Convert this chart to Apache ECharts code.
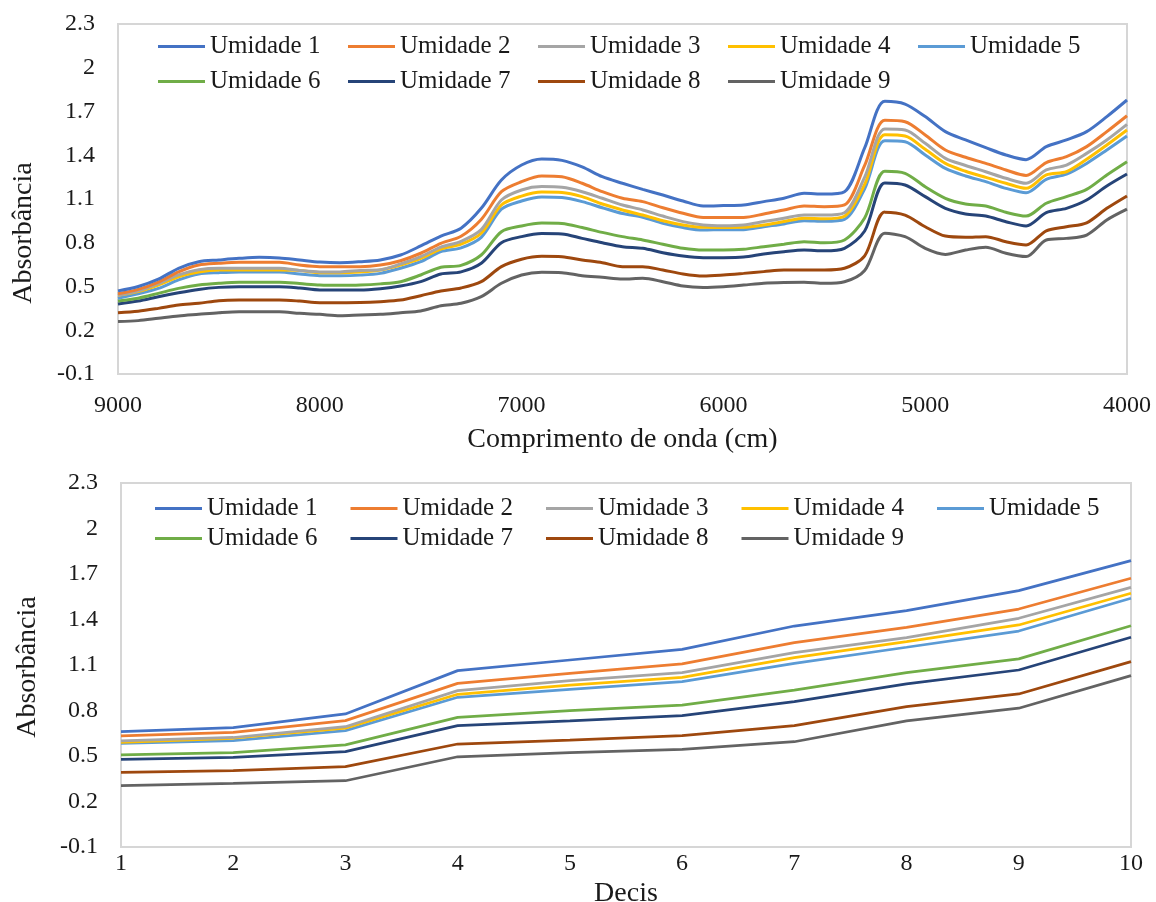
<!DOCTYPE html>
<html>
<head>
<meta charset="utf-8">
<script src="https://cdn.jsdelivr.net/npm/echarts@6/dist/echarts.min.js"></script>
<style>
  html, body { margin: 0; padding: 0; background: #fff; }
  #chart { width: 1156px; height: 902px; }
</style>
</head>
<body>
<div id="chart"></div>
<script>
// Series names and colours
const seriesNames = ['Umidade 1', 'Umidade 2', 'Umidade 3', 'Umidade 4', 'Umidade 5',
                     'Umidade 6', 'Umidade 7', 'Umidade 8', 'Umidade 9'];
const seriesColors = ['#4472C4', '#ED7D31', '#A5A5A5', '#FFC000', '#5B9BD5',
                      '#70AD47', '#264478', '#9E480E', '#636363'];

// Spectra: wavenumber (cm) and absorbance per moisture level
const wavenumbers = [9000, 8900, 8800, 8700, 8600, 8500, 8400, 8300, 8200, 8100,
                     8000, 7900, 7800, 7700, 7600, 7500, 7400, 7300, 7200, 7100,
                     7000, 6900, 6800, 6700, 6600, 6500, 6400, 6300, 6200, 6100,
                     6000, 5900, 5800, 5700, 5600, 5500, 5400, 5300, 5200, 5100,
                     5000, 4900, 4800, 4700, 4600, 4500, 4400, 4300, 4200, 4100, 4000];

const umidade1 = [0.47, 0.50, 0.55, 0.625, 0.67, 0.682, 0.693, 0.70, 0.696, 0.682,
                  0.668, 0.663, 0.67, 0.682, 0.716, 0.778, 0.846, 0.90, 1.036, 1.23,
                  1.333, 1.375, 1.365, 1.32, 1.253, 1.208, 1.166, 1.127, 1.086, 1.052,
                  1.055, 1.059, 1.082, 1.105, 1.139, 1.134, 1.15, 1.45, 1.77, 1.751,
                  1.665, 1.562, 1.505, 1.452, 1.402, 1.37, 1.459, 1.505, 1.562, 1.665, 1.779];
const umidade2 = [0.45, 0.48, 0.53, 0.60, 0.647, 0.659, 0.666, 0.666, 0.666, 0.647,
                  0.636, 0.636, 0.636, 0.647, 0.677, 0.728, 0.796, 0.845, 0.96, 1.15,
                  1.219, 1.258, 1.252, 1.208, 1.15, 1.105, 1.082, 1.04, 1.002, 0.974,
                  0.974, 0.974, 0.997, 1.025, 1.052, 1.047, 1.059, 1.33, 1.64, 1.63,
                  1.539, 1.436, 1.386, 1.344, 1.299, 1.262, 1.35, 1.39, 1.459, 1.562, 1.671];
const umidade3 = [0.44, 0.47, 0.52, 0.58, 0.615, 0.625, 0.625, 0.625, 0.625, 0.61,
                  0.60, 0.60, 0.61, 0.615, 0.655, 0.705, 0.77, 0.81, 0.89, 1.093,
                  1.162, 1.185, 1.18, 1.15, 1.105, 1.059, 1.025, 0.983, 0.945, 0.922,
                  0.917, 0.922, 0.945, 0.968, 0.99, 0.99, 1.006, 1.25, 1.58, 1.573,
                  1.482, 1.379, 1.33, 1.287, 1.242, 1.208, 1.299, 1.333, 1.413, 1.505, 1.612];
const umidade4 = [0.44, 0.465, 0.51, 0.567, 0.60, 0.613, 0.613, 0.613, 0.613, 0.61,
                  0.595, 0.595, 0.60, 0.613, 0.647, 0.693, 0.757, 0.79, 0.865, 1.059,
                  1.12, 1.148, 1.145, 1.116, 1.066, 1.025, 0.99, 0.951, 0.922, 0.906,
                  0.905, 0.906, 0.922, 0.945, 0.968, 0.965, 0.982, 1.20, 1.54, 1.532,
                  1.441, 1.344, 1.29, 1.248, 1.208, 1.173, 1.265, 1.287, 1.372, 1.47, 1.573];
const umidade5 = [0.42, 0.45, 0.487, 0.545, 0.586, 0.595, 0.60, 0.60, 0.60, 0.586,
                  0.574, 0.574, 0.578, 0.59, 0.625, 0.67, 0.739, 0.765, 0.837, 1.03,
                  1.086, 1.114, 1.11, 1.082, 1.04, 1.00, 0.975, 0.933, 0.904, 0.887,
                  0.89, 0.89, 0.91, 0.929, 0.951, 0.947, 0.96, 1.17, 1.50, 1.493,
                  1.402, 1.31, 1.258, 1.219, 1.173, 1.143, 1.235, 1.27, 1.344, 1.436, 1.532];
const umidade6 = [0.40, 0.42, 0.453, 0.487, 0.51, 0.522, 0.529, 0.529, 0.529, 0.52,
                  0.51, 0.508, 0.51, 0.518, 0.533, 0.579, 0.632, 0.645, 0.716, 0.876,
                  0.915, 0.935, 0.932, 0.904, 0.871, 0.842, 0.819, 0.79, 0.762, 0.75,
                  0.75, 0.755, 0.773, 0.79, 0.807, 0.80, 0.819, 0.97, 1.29, 1.276,
                  1.184, 1.105, 1.066, 1.052, 1.009, 0.983, 1.071, 1.116, 1.166, 1.265, 1.356];
const umidade7 = [0.38, 0.40, 0.43, 0.457, 0.48, 0.494, 0.499, 0.499, 0.499, 0.49,
                  0.476, 0.476, 0.476, 0.485, 0.503, 0.533, 0.586, 0.60, 0.659, 0.80,
                  0.842, 0.863, 0.86, 0.83, 0.80, 0.773, 0.762, 0.732, 0.709, 0.698,
                  0.698, 0.702, 0.723, 0.739, 0.75, 0.745, 0.762, 0.88, 1.21, 1.196,
                  1.116, 1.036, 0.997, 0.983, 0.944, 0.915, 1.006, 1.036, 1.093, 1.189, 1.271];
const umidade8 = [0.32, 0.33, 0.35, 0.373, 0.385, 0.403, 0.407, 0.407, 0.407, 0.40,
                  0.389, 0.389, 0.39, 0.396, 0.407, 0.437, 0.469, 0.49, 0.533, 0.636,
                  0.687, 0.707, 0.704, 0.682, 0.663, 0.636, 0.636, 0.613, 0.586, 0.572,
                  0.579, 0.59, 0.602, 0.613, 0.613, 0.613, 0.625, 0.71, 1.01, 0.99,
                  0.91, 0.846, 0.838, 0.842, 0.807, 0.785, 0.882, 0.91, 0.937, 1.036, 1.121];
const umidade9 = [0.26, 0.266, 0.282, 0.298, 0.309, 0.32, 0.327, 0.327, 0.327, 0.316,
                  0.309, 0.30, 0.305, 0.309, 0.32, 0.332, 0.368, 0.385, 0.43, 0.522,
                  0.579, 0.598, 0.595, 0.574, 0.563, 0.551, 0.556, 0.533, 0.503, 0.494,
                  0.499, 0.51, 0.522, 0.527, 0.529, 0.522, 0.533, 0.61, 0.865, 0.842,
                  0.762, 0.72, 0.75, 0.77, 0.728, 0.705, 0.819, 0.83, 0.853, 0.956, 1.03];
const spectra = [umidade1, umidade2, umidade3, umidade4, umidade5,
                 umidade6, umidade7, umidade8, umidade9];

// Mean absorbance per decile
const deciles = ['1', '2', '3', '4', '5', '6', '7', '8', '9', '10'];
const decis1 = [0.66, 0.687, 0.777, 1.063, 1.133, 1.203, 1.357, 1.458, 1.59, 1.788];
const decis2 = [0.632, 0.656, 0.733, 0.979, 1.045, 1.107, 1.247, 1.348, 1.469, 1.672];
const decis3 = [0.60, 0.622, 0.693, 0.931, 0.997, 1.05, 1.181, 1.28, 1.408, 1.612];
const decis4 = [0.59, 0.617, 0.684, 0.907, 0.968, 1.019, 1.148, 1.254, 1.364, 1.573];
const decis5 = [0.584, 0.601, 0.667, 0.887, 0.94, 0.99, 1.111, 1.217, 1.324, 1.54];
const decis6 = [0.507, 0.522, 0.573, 0.755, 0.799, 0.836, 0.935, 1.05, 1.14, 1.359];
const decis7 = [0.478, 0.491, 0.529, 0.70, 0.731, 0.766, 0.858, 0.975, 1.067, 1.283];
const decis8 = [0.392, 0.403, 0.43, 0.579, 0.605, 0.634, 0.70, 0.825, 0.909, 1.122];
const decis9 = [0.304, 0.32, 0.337, 0.495, 0.522, 0.544, 0.594, 0.731, 0.815, 1.03];
const decisData = [decis1, decis2, decis3, decis4, decis5, decis6, decis7, decis8, decis9];

// Axis tick labels
const absorbanceTicks = [-0.1, 0.2, 0.5, 0.8, 1.1, 1.4, 1.7, 2, 2.3];
const wavenumberTicks = [9000, 8000, 7000, 6000, 5000, 4000];

const FONT = '"Liberation Serif", "Times New Roman", serif';
const TEXT = '#1a1a1a';
const BORDER = '#d6d6d6';

function yAxisFor(gridIndex) {
  return {
    type: 'value',
    gridIndex: gridIndex,
    min: absorbanceTicks[0],
    max: absorbanceTicks[absorbanceTicks.length - 1],
    axisLine: { show: false },
    axisTick: { show: false },
    splitLine: { show: false },
    axisLabel: {
      customValues: absorbanceTicks,
      margin: 23,
      fontFamily: FONT, fontSize: 24, color: TEXT,
      formatter: v => String(Math.round(v * 10) / 10)
    }
  };
}

function legendFor(top, left, textWidth, gap) {
  return {
    data: seriesNames,
    left: left,
    top: top,
    width: 980,
    padding: 0,
    orient: 'horizontal',
    icon: 'rect',
    itemWidth: 47,
    itemHeight: 3,
    itemGap: gap,
    selectedMode: false,
    textStyle: {
      fontFamily: FONT, fontSize: 25, color: TEXT,
      width: textWidth, lineHeight: 25, overflow: 'none'
    }
  };
}

const series = [];
seriesNames.forEach((name, i) => {
  series.push({
    name: name,
    type: 'line',
    xAxisIndex: 0, yAxisIndex: 0,
    data: wavenumbers.map((w, k) => [w, spectra[i][k]]),
    showSymbol: false,
    smooth: 0.3,
    lineStyle: { width: 3, color: seriesColors[i] },
    itemStyle: { color: seriesColors[i] },
    z: 20 - i
  });
});
seriesNames.forEach((name, i) => {
  series.push({
    name: name,
    type: 'line',
    xAxisIndex: 1, yAxisIndex: 1,
    data: decisData[i],
    showSymbol: false,
    lineStyle: { width: 2.75, color: seriesColors[i] },
    itemStyle: { color: seriesColors[i] },
    z: 20 - i
  });
});

const option = {
  animation: false,
  backgroundColor: '#fff',
  color: seriesColors,
  grid: [
    { left: 118, right: 29, top: 24, height: 350, show: true,
      outerBoundsMode: 'none', containLabel: false,
      borderColor: BORDER, borderWidth: 2, backgroundColor: 'transparent' },
    { left: 121, right: 25, top: 483, height: 364, show: true,
      outerBoundsMode: 'none', containLabel: false,
      borderColor: BORDER, borderWidth: 2, backgroundColor: 'transparent' }
  ],
  legend: [
    legendFor(34, 158, 128, 10),
    legendFor(496, 155, 138.5, 5)
  ],
  xAxis: [
    {
      type: 'value',
      gridIndex: 0,
      inverse: true,
      min: 4000, max: 9000, interval: 1000,
      axisLine: { show: false },
      axisTick: { show: false },
      splitLine: { show: false },
      axisLabel: {
        customValues: wavenumberTicks,
        margin: 20, fontFamily: FONT, fontSize: 24, color: TEXT,
        formatter: v => String(v)
      },
      name: 'Comprimento de onda (cm)',
      nameLocation: 'middle',
      nameGap: 52,
      nameTextStyle: { fontFamily: FONT, fontSize: 28, color: TEXT }
    },
    {
      type: 'category',
      gridIndex: 1,
      data: deciles,
      boundaryGap: false,
      axisLine: { show: false },
      axisTick: { show: false },
      splitLine: { show: false },
      axisLabel: { margin: 5, fontFamily: FONT, fontSize: 24, color: TEXT, interval: 0 },
      name: 'Decis',
      nameLocation: 'middle',
      nameGap: 33,
      nameTextStyle: { fontFamily: FONT, fontSize: 28, color: TEXT }
    }
  ],
  yAxis: [yAxisFor(0), yAxisFor(1)],
  graphic: [
    { type: 'text', x: 24, y: 233, rotation: Math.PI / 2,
      style: { text: 'Absorbância', fontFamily: FONT, fontSize: 28, fill: TEXT,
               align: 'center', verticalAlign: 'middle' } },
    { type: 'text', x: 28, y: 667, rotation: Math.PI / 2,
      style: { text: 'Absorbância', fontFamily: FONT, fontSize: 28, fill: TEXT,
               align: 'center', verticalAlign: 'middle' } }
  ],
  series: series
};

const chart = echarts.init(document.getElementById('chart'), null, { renderer: 'canvas' });
chart.setOption(option);
</script>
</body>
</html>
